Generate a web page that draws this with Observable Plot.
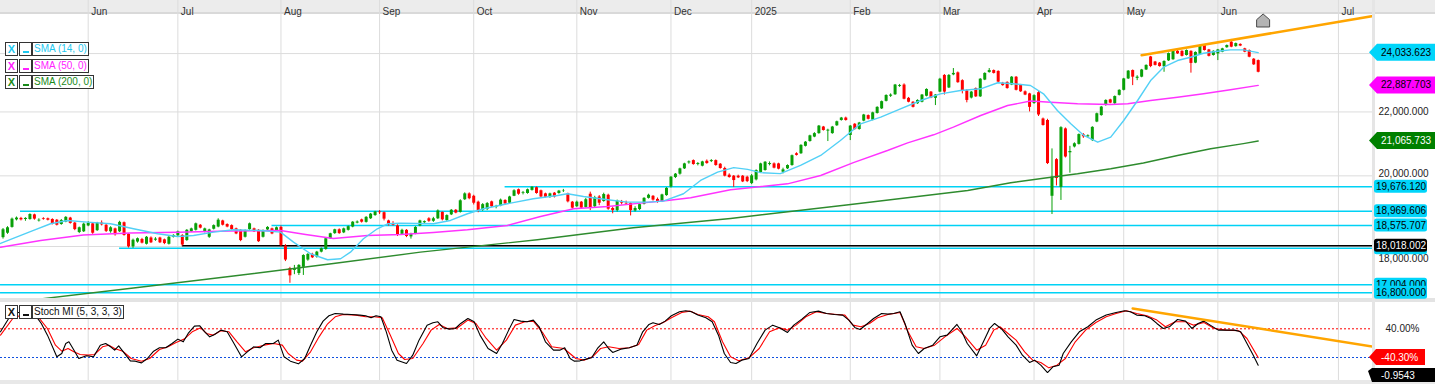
<!DOCTYPE html>
<html><head><meta charset="utf-8">
<script src="https://cdn.jsdelivr.net/npm/d3@7"></script>
<script src="https://cdn.jsdelivr.net/npm/@observablehq/plot@0.6"></script>
<style>
html,body{margin:0;padding:0;background:#fff;overflow:hidden;}
#wrap{position:relative;width:1435px;height:384px;font-family:"Liberation Sans",Arial,sans-serif;}
.band{position:absolute;}
#main,#stoch{position:absolute;left:0;width:1435px;}
#main{top:0;} #stoch{top:300px;}
.lg{position:absolute;height:12px;border:1px solid #333;background:#fff;font-size:10px;line-height:12px;white-space:nowrap;}
</style></head><body>
<div id="wrap">
 <div class="band" style="left:0;top:0;width:1435px;height:12px;background:#ececec"></div>
 <div class="band" style="left:0;top:12px;width:1435px;height:2px;background:#d9d9d9"></div>
 <div class="band" style="left:0;top:298px;width:1435px;height:4px;background:#e3e3e3"></div>
 <div class="band" style="left:0;top:380px;width:1435px;height:4px;background:#e8e8e8"></div>
 <div class="band" style="left:1372px;top:0;width:3px;height:384px;background:#e5e5e5"></div>
 <div id="main"></div><div id="stoch"></div>
</div>
<script>
// ---------- categories / ticks ----------
const monthBars   = [19,39,62,84,105,128,149,167,189,209,230,250,271,297.9];
const monthLabels = ["Jun","Jul","Aug","Sep","Oct","Nov","Dec","2025","Feb","Mar","Apr","May","Jun","Jul"];
const priceTicks  = [24000,22000,20000,18000];
const priceLabelTicks = [22000,20000,18000];
const priceLabelShift = [0,-2,12];          // label nudges to avoid the value tags
const stochTicks  = [40,-40];

// ---------- daily candles (bar 0 = first bar, May 2024 ... Jun 2025) ----------
const o = [18240,18360,18520,18730,18770,18740,18740,18870,18700,18760,18760,18740,18720,18600,18670,18780,18640,18380,18400,
18560,18620,18430,18640,18580,18400,18480,18400,18650,18330,17990,18120,18190,18060,18230,18170,18230,18180,18060,18250,
18290,18300,18160,18400,18440,18580,18390,18250,18470,18530,18700,18600,18570,18480,18440,18250,18460,18480,18440,18250,18450,18480,18430,
18520,18010,17420,17370,17290,17450,17640,17790,17720,17850,17920,18210,18350,18455,18370,18440,18530,18640,18730,18660,18760,18850,
18950,18930,18700,18600,18560,18330,18440,18260,18340,18560,18650,18760,18690,18760,18940,18710,18870,19000,18940,19300,19470,
19400,19230,19000,19020,19240,19090,19120,19280,19200,19400,19590,19480,19480,19570,19650,19560,19470,19370,19490,19480,19550,19470,19230,
19100,19230,19080,19460,19100,19380,19250,19430,19050,18990,19240,19200,19190,18980,19020,19170,19340,19400,19310,19240,19420,
19670,19950,20050,20210,20390,20460,20340,20290,20440,20430,20460,20350,20220,20020,19990,19990,19990,19960,
19770,19880,20100,20160,20340,20360,20360,20110,20210,20310,20670,20670,20900,21050,21190,21300,21510,21380,21300,21550,21720,21800,
21240,21600,21430,21700,21880,21730,21950,22100,22350,22520,22570,22850,22900,22450,22320,22270,22320,22520,22660,22450,
22660,23230,22800,23250,23320,23050,22700,22460,22780,22500,23070,23330,23400,23370,22960,22990,22900,23170,22900,22670,22600,
22280,22640,21770,21720,19400,20490,19660,21450,20700,20880,20960,21260,21200,21080,21670,21880,22210,22400,22270,22550,
22720,23110,23400,23130,23170,23420,23880,23700,23660,23530,23740,23780,24080,24080,23930,24080,23660,23980,24290,24130,23930,23990,24050,24210,24410,24250,24330,24170,24110,23800,23750];
const h = [18490,18540,18780,18810,18800,18790,18900,18890,18760,18790,18780,18760,18740,18740,18820,18800,18660,18530,18640,
18680,18640,18660,18700,18610,18540,18500,18690,18670,18350,18200,18230,18220,18270,18260,18240,18250,18200,18270,18320,
18420,18320,18460,18500,18640,18600,18500,18470,18590,18760,18720,18620,18590,18500,18460,18450,18640,18500,18460,18450,18540,18500,18530,
18560,18050,17450,17500,17520,17780,17810,17820,17870,17960,18230,18360,18470,18480,18500,18560,18680,18700,18750,18820,18910,18970,
18990,18950,18720,18680,18590,18470,18460,18360,18540,18720,18700,18790,18800,19010,18950,18870,19020,19020,19300,19500,19500,
19430,19260,19190,19220,19260,19140,19320,19300,19400,19590,19610,19540,19610,19680,19670,19580,19490,19490,19510,19570,19600,19490,19250,
19260,19250,19340,19520,19400,19420,19490,19460,19090,19290,19280,19260,19210,19100,19180,19360,19460,19420,19350,19460,19650,
19980,20070,20230,20380,20450,20480,20400,20440,20480,20490,20480,20370,20260,20060,20010,20020,20010,19990,
20040,20180,20380,20430,20420,20390,20380,20230,20330,20630,20700,20950,21050,21250,21330,21560,21530,21440,21530,21700,21820,21830,
21560,21620,21660,21920,21900,21990,22170,22360,22570,22600,22920,22920,22940,22480,22340,22400,22580,22770,22680,22580,
23130,23260,23260,23470,23350,23080,22740,22680,22800,23120,23320,23470,23420,23390,22990,23010,23190,23190,22920,22700,22620,
22570,22680,21800,21760,20820,20520,21520,21480,20900,21010,21290,21300,21260,21520,21960,22180,22400,22420,22530,22740,
23130,23400,23420,23220,23440,23600,23900,23720,23680,23740,24020,24100,24110,24100,24130,24100,24060,24310,24310,24150,24100,24150,24190,24310,24510,24380,24350,24190,24130,23820,23770];
const l = [18200,18330,18500,18700,18700,18690,18720,18720,18670,18720,18700,18590,18560,18580,18650,18610,18430,18350,18380,
18540,18330,18410,18560,18380,18360,18280,18380,18280,17960,17950,18090,18070,18040,18080,18140,18080,18050,18040,18230,
18260,18010,18140,18380,18420,18480,18370,18220,18450,18510,18560,18510,18440,18320,18130,18230,18440,18380,18110,18230,18430,18320,18410,
18000,17600,17040,17260,17240,17240,17610,17680,17690,17830,17900,18190,18330,18330,18350,18420,18510,18620,18640,18640,18740,18830,
18880,18700,18560,18560,18270,18300,18240,18200,18320,18540,18600,18660,18660,18740,18700,18690,18850,18900,18920,19280,19300,
19150,18930,18970,18990,19080,19040,19100,19150,19180,19390,19430,19440,19460,19550,19460,19350,19350,19340,19350,19460,19510,19210,19030,
19080,19030,19060,18990,19060,19130,19230,19000,18900,18950,19150,19140,18840,18950,18990,19150,19320,19260,19200,19220,19400,
19640,19920,20020,20190,20350,20320,20300,20270,20350,20400,20290,20200,19970,19930,19660,19920,19800,19800,
19740,19850,20080,20140,20300,20210,20180,20060,20190,20290,20600,20650,20880,21030,21170,21280,21380,21050,21280,21530,21700,21700,
21080,21410,21410,21680,21740,21710,21930,22080,22330,22480,22550,22820,22400,22300,22130,22250,22300,22500,22440,22210,
22640,22560,22780,23220,22960,22600,22300,22430,22480,22480,23050,23310,23280,22980,22860,22760,22880,22700,22650,22540,22000,
22250,21850,21540,20340,18880,19700,19280,20540,20080,20850,20940,21150,21160,21050,21650,21860,22190,22270,22250,22530,
22700,23090,22880,23050,23150,23400,23500,23560,23520,23340,23720,23760,23970,23880,23910,23310,23640,23960,24090,23880,23910,23750,24030,24190,24210,24230,24250,24030,23850,23580,23320];
const c = [18455,18510,18750,18780,18730,18770,18880,18750,18720,18740,18720,18610,18580,18710,18800,18630,18460,18510,18610,
18630,18360,18640,18590,18410,18510,18320,18660,18300,17990,18170,18210,18090,18250,18100,18200,18100,18080,18250,18300,
18400,18040,18440,18480,18620,18500,18480,18450,18570,18720,18580,18530,18460,18340,18160,18430,18620,18400,18130,18430,18520,18340,18510,
18030,17640,17230,17410,17500,17760,17790,17700,17850,17940,18210,18345,18455,18350,18480,18540,18665,18670,18665,18800,18890,18950,
18930,18750,18590,18580,18300,18440,18270,18330,18520,18700,18680,18690,18760,18980,18730,18850,19000,18920,19270,19470,19330,
19200,18980,19160,19190,19100,19110,19290,19180,19380,19560,19460,19500,19590,19660,19480,19380,19370,19470,19380,19550,19560,19240,19060,
19230,19060,19300,19050,19360,19200,19450,19030,18990,19260,19200,19180,18990,19050,19160,19340,19430,19290,19230,19440,19630,
19960,20050,20210,20360,20420,20340,20370,20420,20370,20460,20310,20220,19990,19950,19860,19940,19820,19830,
20000,20160,20360,20410,20370,20230,20200,20180,20310,20610,20620,20930,21030,21230,21300,21540,21400,21410,21510,21680,21800,21720,
21540,21430,21640,21900,21760,21970,22150,22340,22545,22560,22900,22880,22420,22320,22150,22380,22560,22750,22460,22560,
23100,22660,23230,23300,22980,22700,22380,22660,22500,23100,23300,23400,23300,23000,22880,22780,23170,22720,22670,22560,22150,
22540,21900,21560,20370,19960,19920,21490,20570,20740,20980,21270,21200,21230,21500,21940,22160,22380,22290,22510,22720,
23110,23380,23170,23170,23420,23580,23540,23580,23540,23720,24000,24080,23990,23900,24110,23650,24040,24290,24110,23900,24080,24130,24170,24290,24230,24360,24270,24050,23870,23600,23340];

// ---------- moving averages (read at sampled bars) ----------
const sma14Bars = [-0.56,6.8,10.6,14.4,18.8,24.0,29.1,34.5,38.9,42.5,47.0,51.4,57.4,61.9,64.8,68.6,72.4,75.3,77.5,80.4,83.5,85.8,88.7,96.0,99.8,103.6,107.2,112.5,118.3,123.7,125.9,129.5,134.9,139.3,143.8,147.3,151.8,155.6,159.4,163.0,166.1,169.0,173.4,177.9,182.4,186.8,191.3,195.8,200.2,204.7,209.1,213.6,218.1,221.9,225.4,229.2,232.1,235.2,238.2,241.1,244.2,247.1,250.0,253.1,256.0,258.9,262.0,264.9,267.8,270.9,273.8,276.7,280.0];
const sma14 = [18082,18436,18621,18713,18666,18621,18483,18345,18271,18299,18389,18455,18436,18389,18117,17806,17648,17674,17849,18209,18483,18621,18638,18621,18713,18901,19042,19185,19330,19423,19473,19394,19300,19231,19231,19260,19473,19862,20113,20246,20195,20095,20065,20312,20617,21083,21614,21828,22103,22378,22602,22714,22772,22977,22943,22884,22602,22047,21614,21241,21029,21187,21721,22378,23055,23517,23752,23870,24012,24084,24134,24134,24033.623];
const sma50Bars = [-0.56,8.4,17.9,28.4,38.9,50.7,61.9,67.5,73.7,81.3,88.7,96.0,103.6,112.5,119.9,127.3,134.9,142.2,148.2,153.4,162.3,175.0,182.4,189.7,197.3,201.8,207.6,212.0,218.1,224.1,229.2,233.7,239.7,247.1,250.9,256.0,262.0,267.8,273.8,280.0];
const sma50 = [17982,18163,18313,18368,18389,18422,18436,18326,18217,18299,18326,18381,18455,18574,18825,19042,19108,19202,19279,19357,19588,19764,20011,20400,20771,21010,21263,21505,21883,22212,22361,22321,22268,22245,22268,22378,22488,22602,22738,22887.703];
const sma200Bars = [-0.56,6.8,29.1,51.4,73.7,93.1,119.2,140.6,162.3,189.1,215.2,224.8,232.1,239.7,247.1,254.4,262.0,269.4,276.7,280.0];
const sma200 = [16522,16626,16920,17226,17550,17849,18182,18510,18769,19165,19568,19794,19930,20061,20213,20388,20617,20824,20983,21065.733];

// ---------- horizontal levels ----------
const levelValues = [19676.120,18969.606,18575.707,17955.000,17004.000,16800.000];
const levelStarts = [112,3.9,60,26,-0.56,-0.56];
const levelShowText = [true,true,true,false,true,true];   // 17,955 tag is hidden behind the black one
const supportValue = 18018.002, supportStart = 40;
const trendBars = [254,305.5], trendValues = [23940,25380];
const iconBar = 281.1, iconValue = 25213;

// ---------- Stoch MI (5,3,3,3) ----------
const stochKBars = [-0.56,1.26,2.17,4.45,7.18,8.54,9.91,12.0,13.1,14.0,14.7,15.6,16.9,18.6,20.2,21.7,22.9,24.0,24.9,25.8,26.7,28.4,29.5,30.9,32.2,33.6,34.9,36.3,37.7,39.0,40.2,41.3,42.7,43.9,45.0,46.1,47.2,48.6,50.0,51.3,53.2,54.5,55.9,57.3,58.6,60.3,61.4,62.7,64.1,65.9,67.3,68.6,70.0,71.4,72.7,74.1,75.9,77.7,79.6,80.9,82.1,83.2,84.3,85.5,86.7,87.9,90.0,91.4,92.8,94.6,95.9,97.0,98.2,99.6,100.9,102.1,103.7,105.1,106.4,108.2,110.1,111.4,112.8,114.0,115.5,116.9,118.3,119.6,121.0,122.8,124.2,125.3,126.5,127.4,128.7,130.1,131.3,132.6,134.0,135.1,136.0,137.8,139.7,141.4,142.7,144.1,145.0,146.4,147.7,149.1,150.9,152.3,153.6,155.0,156.8,158.2,159.6,160.9,162.3,163.5,164.8,166.4,168.2,170.0,171.7,173.2,175.0,176.4,178.2,180.0,181.9,183.7,185.5,187.3,188.7,190.1,191.2,192.6,194.2,196.0,197.4,198.7,200.1,201.2,202.8,204.2,205.5,207.4,209.0,210.6,212.8,213.9,215.1,217.2,218.7,220.1,221.2,222.8,224.2,226.0,227.4,229.0,230.1,231.5,233.0,234.2,235.6,236.5,238.3,240.1,242.0,243.8,246.1,248.3,250.2,251.5,252.9,254.7,256.1,257.4,258.8,260.2,262.0,263.8,265.2,266.6,267.9,269.3,271.1,272.9,274.7,276.1,277.5,278.9,280.0];
const stochK = [31.6,68.8,82.8,87.4,78.2,54.9,22.3,-38.1,-28.8,-0.9,3.7,-14.9,-42.8,-35.3,-38.1,-5.6,-0.9,-10.2,-19.5,-7.4,-22.3,-49.3,-50.2,-54.9,-42.8,-22.3,-13.0,-13.0,-0.9,11.2,3.7,27.0,47.4,48.4,31.6,17.6,24.2,36.3,31.6,3.7,-38.1,-24.2,-10.2,-13.0,-0.9,-0.9,8.4,-38.1,-50.2,-57.7,-42.8,-5.6,31.6,61.4,76.3,82.8,81.0,80.0,78.2,76.3,70.7,76.3,73.5,31.6,-19.5,-47.4,-56.7,-33.5,8.4,50.2,56.7,59.5,42.8,39.1,40.9,54.9,68.8,59.5,22.3,-14.9,-28.8,-0.9,36.3,66.0,61.4,59.5,64.2,45.6,3.7,-19.5,-19.5,-13.0,-42.8,-50.2,-49.3,-44.6,-40.9,-14.9,3.7,-14.9,-26.0,-16.7,-13.0,-5.6,31.6,52.1,56.7,52.1,61.4,76.3,87.4,90.2,87.4,78.2,70.7,59.5,22.3,-28.8,-53.9,-56.7,-47.4,-42.8,-0.9,36.3,50.2,42.8,29.8,50.2,67.0,85.6,89.3,82.8,80.0,78.2,64.2,42.8,38.1,52.1,68.8,82.8,81.0,82.8,87.4,54.9,-5.6,-28.8,-14.9,-5.6,17.6,22.3,52.1,31.6,-0.9,-35.3,3.7,40.9,54.9,39.1,17.6,-5.6,-33.5,-53.9,-47.4,-61.4,-81.9,-66.0,-61.4,-28.8,3.7,31.6,45.6,64.2,78.2,85.6,90.2,87.4,78.2,76.3,68.8,54.9,40.9,45.6,66.0,61.4,40.9,54.9,61.4,50.2,36.3,36.3,36.3,31.6,-0.9,-33.5,-61.4];
const stochDBars = [-0.56,2.17,4.9,8.1,9.9,11.7,13.1,14.5,15.8,17.2,19.0,20.4,22.2,23.6,24.9,26.7,28.6,30.9,32.7,34.9,36.8,38.6,40.4,42.2,44.1,45.4,46.8,48.6,50.4,52.2,54.1,55.9,58.2,60.4,62.3,63.6,65.5,66.8,68.6,70.5,72.3,74.1,75.9,78.7,80.9,82.8,84.6,86.4,88.2,89.6,91.4,93.7,95.5,97.3,99.1,101.4,103.7,105.5,107.8,110.1,112.3,114.3,116.4,118.3,120.5,122.4,125.1,127.8,129.6,131.5,133.3,135.1,137.4,139.7,141.8,143.6,145.4,147.3,149.1,151.4,153.2,155.0,157.3,158.7,160.5,162.3,164.1,166.4,168.7,171.0,173.2,175.0,176.9,179.1,181.4,183.7,186.0,187.8,189.6,191.4,193.3,195.1,197.4,200.1,201.9,203.7,205.5,207.8,210.1,212.8,214.7,217.2,219.2,221.0,222.4,224.2,226.0,227.9,229.7,231.5,233.3,235.1,237.0,239.2,241.5,243.8,246.1,248.3,250.6,252.9,255.2,257.4,259.3,261.5,263.8,265.6,267.9,270.2,272.9,275.7,277.5,280.0];
const stochD = [22.3,68.8,82.8,68.8,40.9,-5.6,-22.3,-14.9,-24.2,-31.6,-33.5,-31.6,-10.2,-5.6,-14.9,-22.3,-42.8,-50.2,-42.8,-17.7,-10.2,1.9,11.2,31.6,42.8,27.0,22.3,34.4,31.6,3.7,-24.2,-13.0,-5.6,-0.9,-5.6,-28.8,-47.4,-50.2,-24.2,17.6,52.1,73.5,80.0,78.2,73.5,73.5,70.7,22.3,-28.8,-45.6,-42.8,-0.9,36.3,52.1,40.9,42.8,64.2,54.9,13.0,-19.5,8.4,50.2,59.5,61.4,27.0,-10.2,-14.9,-42.8,-47.4,-38.1,-14.9,-10.2,-14.9,-13.0,-3.7,36.3,48.4,57.7,70.7,85.6,89.3,80.0,73.5,59.5,3.7,-38.1,-49.3,-40.9,-14.9,31.6,42.8,36.3,50.2,73.5,87.4,82.8,80.0,78.2,50.2,45.6,54.9,70.7,80.0,85.6,31.6,-10.2,-14.9,-5.6,17.6,40.9,17.6,-19.5,-5.6,36.3,45.6,27.0,8.4,-24.2,-47.4,-53.9,-68.8,-61.4,-42.8,3.7,36.3,57.7,73.5,82.8,90.2,82.8,76.3,64.2,45.6,59.5,59.5,50.2,57.7,40.9,36.3,34.4,13.0,-40.3];
const stochTrendBars = [252,305.5], stochTrendValues = [96.6,-9.3];
const stochTagValues = [-40.3,-90.2], stochTagTexts = ["-40.30%","-0.9543"];

// ---------- build ----------
const FONT = '"Liberation Sans", Arial, sans-serif';
const xDomain = [-0.564, 305.5];
const months = monthBars.map((b,k)=>({bar:b,label:monthLabels[k]}));
const candles = c.map((cv,i)=>({i,o:o[i],c:cv,h:Math.max(h[i],o[i],cv),l:Math.min(l[i],o[i],cv)}));
const ser = (bars,vals)=>bars.map((b,k)=>({bar:b,v:vals[k]}));
const levels = levelValues.map((v,k)=>({v,start:levelStarts[k]}));
const fmt = d3.format(",.3f");
const GREEN="#08a008", RED="#ff0000", CYAN="#00d2f5", SMA14C="#52d0f6", SMA50C="#ff33ff", SMA200C="#2e8b2e";
const house = {draw(ctx,size){const r=Math.sqrt(size/Math.PI);ctx.moveTo(0,-r);ctx.lineTo(r,-r*0.12);ctx.lineTo(r,r);ctx.lineTo(-r,r);ctx.lineTo(-r,-r*0.12);ctx.closePath();}};

const main = Plot.plot({
  width:1435, height:300, marginLeft:0, marginRight:63, marginTop:15, marginBottom:2,
  style:{fontFamily:FONT, fontSize:"10px", background:"transparent", color:"#222", overflow:"visible"},
  x:{domain:xDomain, axis:null},
  y:{type:"log", domain:[16657.6,25401.5], axis:null},
  marks:[
    Plot.ruleY(priceTicks,{stroke:"#dcdcdc"}),
    Plot.ruleX(months,{x:"bar", stroke:"#dcdcdc", insetTop:-15}),
    Plot.text(months,{x:"bar", text:"label", frameAnchor:"top", dy:-8, dx:3, textAnchor:"start", fill:"#333", fontSize:10}),
    ...priceLabelTicks.map((t,k)=>Plot.text([t],{y:d=>d, text:d=>fmt(d), frameAnchor:"right", dx:6, dy:priceLabelShift[k], textAnchor:"start", fill:"#222", fontSize:10})),
    Plot.ruleY(levels,{y:"v", x1:"start", x2:xDomain[1], stroke:CYAN, strokeWidth:1.5}),
    Plot.ruleY([supportValue],{y:d=>d, x1:supportStart, x2:xDomain[1], stroke:"#000", strokeWidth:1.5}),
    Plot.ruleX(candles,{x:"i", y1:"l", y2:"h", stroke:d=>d.c>=d.o?GREEN:RED, strokeWidth:1, clip:true}),
    Plot.ruleX(candles,{x:"i", y1:"o", y2:"c", stroke:d=>d.c>=d.o?GREEN:RED, strokeWidth:3, clip:true}),
    Plot.line(ser(sma200Bars,sma200),{x:"bar", y:"v", stroke:SMA200C, strokeWidth:1.4, clip:true}),
    Plot.line(ser(sma50Bars,sma50),{x:"bar", y:"v", stroke:SMA50C, strokeWidth:1.4, clip:true}),
    Plot.line(ser(sma14Bars,sma14),{x:"bar", y:"v", stroke:SMA14C, strokeWidth:1.4, clip:true}),
    Plot.line(ser(trendBars,trendValues),{x:"bar", y:"v", stroke:"#ffa500", strokeWidth:2.5, clip:true}),
    Plot.dot([{bar:iconBar,v:iconValue}],{x:"bar", y:"v", symbol:house, r:6.5, fill:"#b4b4b4", stroke:"#4a4a4a", strokeWidth:1})
  ]
});
document.getElementById("main").appendChild(main);

const stoch = Plot.plot({
  width:1435, height:84, marginLeft:0, marginRight:63, marginTop:2, marginBottom:4,
  style:{fontFamily:FONT, fontSize:"10px", background:"transparent", color:"#222", overflow:"visible"},
  x:{domain:xDomain, axis:null},
  y:{domain:[-104.1,113.3], axis:null},
  marks:[
    Plot.ruleX(months,{x:"bar", stroke:"#dcdcdc"}),
    Plot.ruleY([stochTicks[0]],{stroke:"#ff0000", strokeDasharray:"2,2"}),
    Plot.ruleY([stochTicks[1]],{stroke:"#1050e0", strokeDasharray:"2,2"}),
    Plot.text([stochTicks[0]],{y:d=>d, text:d=>d.toFixed(2)+"%", frameAnchor:"right", dx:13, textAnchor:"start", fill:"#222", fontSize:10}),
    Plot.line(ser(stochDBars,stochD),{x:"bar", y:"v", stroke:"#ff0000", strokeWidth:1.1, clip:true}),
    Plot.line(ser(stochKBars,stochK),{x:"bar", y:"v", stroke:"#000", strokeWidth:1.1, clip:true}),
    Plot.line(ser(stochTrendBars,stochTrendValues),{x:"bar", y:"v", stroke:"#ffa500", strokeWidth:2.5, clip:true})
  ]
});
document.getElementById("stoch").appendChild(stoch);

// ---------- value tags on the right, placed with Plot's own y scales ----------
function scaleFn(chart, fallback){ const s=chart.scale("y"); return s.apply ? v=>s.apply(v) : fallback.domain(s.domain).range(s.range); }
const YM = scaleFn(main, d3.scaleLog()), YS = scaleFn(stoch, d3.scaleLinear());
function addText(g,x,y,fill,text){
  g.append("text").attr("x",x).attr("y",y).attr("dy","0.36em").attr("text-anchor","start")
   .attr("fill",fill).attr("font-size",10).attr("font-family",FONT).text(text);
}
function arrowTag(svg,yc,fill,tfill,text){
  const x0=1369; const g=svg.append("g");
  g.append("path").attr("d",`M${x0},${yc}L${x0+8},${yc-8.5}H1435V${yc+8.5}H${x0+8}Z`).attr("fill",fill).attr("stroke","none");
  addText(g,x0+12,yc,tfill,text);
}
function boxTag(svg,yc,fill,tfill,text){
  const g=svg.append("g");
  g.append("rect").attr("x",1374).attr("y",yc-6.5).attr("width",53).attr("height",13).attr("rx",2.5).attr("fill",fill).attr("stroke","none");
  if(text) addText(g,1376,yc,tfill,text);
}
const sm = d3.select(main);
arrowTag(sm, YM(sma14[sma14.length-1]), "#00d5fa", "#000", fmt(sma14[sma14.length-1]));
arrowTag(sm, YM(sma50[sma50.length-1]), "#ff00ff", "#000", fmt(sma50[sma50.length-1]));
arrowTag(sm, YM(sma200[sma200.length-1]), "#008000", "#fff", fmt(sma200[sma200.length-1]));
[0,1,2,3].forEach(k=>boxTag(sm, YM(levelValues[k]), "#00d5fa", "#000", levelShowText[k]?fmt(levelValues[k]):null));
boxTag(sm, YM(supportValue), "#000", "#fff", fmt(supportValue));
[4,5].forEach(k=>boxTag(sm, YM(levelValues[k]), "#00d5fa", "#000", levelShowText[k]?fmt(levelValues[k]):null));
const ss = d3.select(stoch);
{
  const y=YS(stochTagValues[0]); const g=ss.append("g");
  g.append("path").attr("d",`M1369,${y}L1376,${y-8}H1425V${y+8}H1376Z`).attr("fill","#ff0000");
  addText(g,1381,y,"#fff",stochTagTexts[0]);
  const y2=YS(stochTagValues[1]); const g2=ss.append("g");
  g2.append("path").attr("d",`M1368,${y2-4}L1372,${y2-7}H1435V${y2+7}H1372Z`).attr("fill","#000");
  addText(g2,1381,y2,"#fff",stochTagTexts[1]);
}

// ---------- indicator legends ----------
const wrap = document.getElementById("wrap");
function box(left,top,html,width){const d=document.createElement("div");d.className="lg";d.style.left=left+"px";d.style.top=top+"px";if(width!=null)d.style.width=width+"px";else d.style.padding="0 1px";d.innerHTML=html;wrap.appendChild(d);return d;}
const legendNames = ["SMA (14, 0)","SMA (50, 0)","SMA (200, 0)","Stoch MI (5, 3, 3, 3)"];
const legendColors = ["#1ec8f0","#ff22ff","#1a8a1a","#111"];
const legendTops = [42,58.5,75,305];
legendNames.forEach((name,k)=>{
  const col=legendColors[k], t=legendTops[k];
  box(5,t,`<b style="display:block;text-align:center;color:${col};font-size:11px">X</b>`,11);
  box(19,t,`<div style="position:absolute;left:3px;bottom:2px;width:6px;height:2px;background:${col}"></div>`,11);
  box(32,t,`<span style="color:${col}">${name}</span>`);
});
</script>
</body></html>
